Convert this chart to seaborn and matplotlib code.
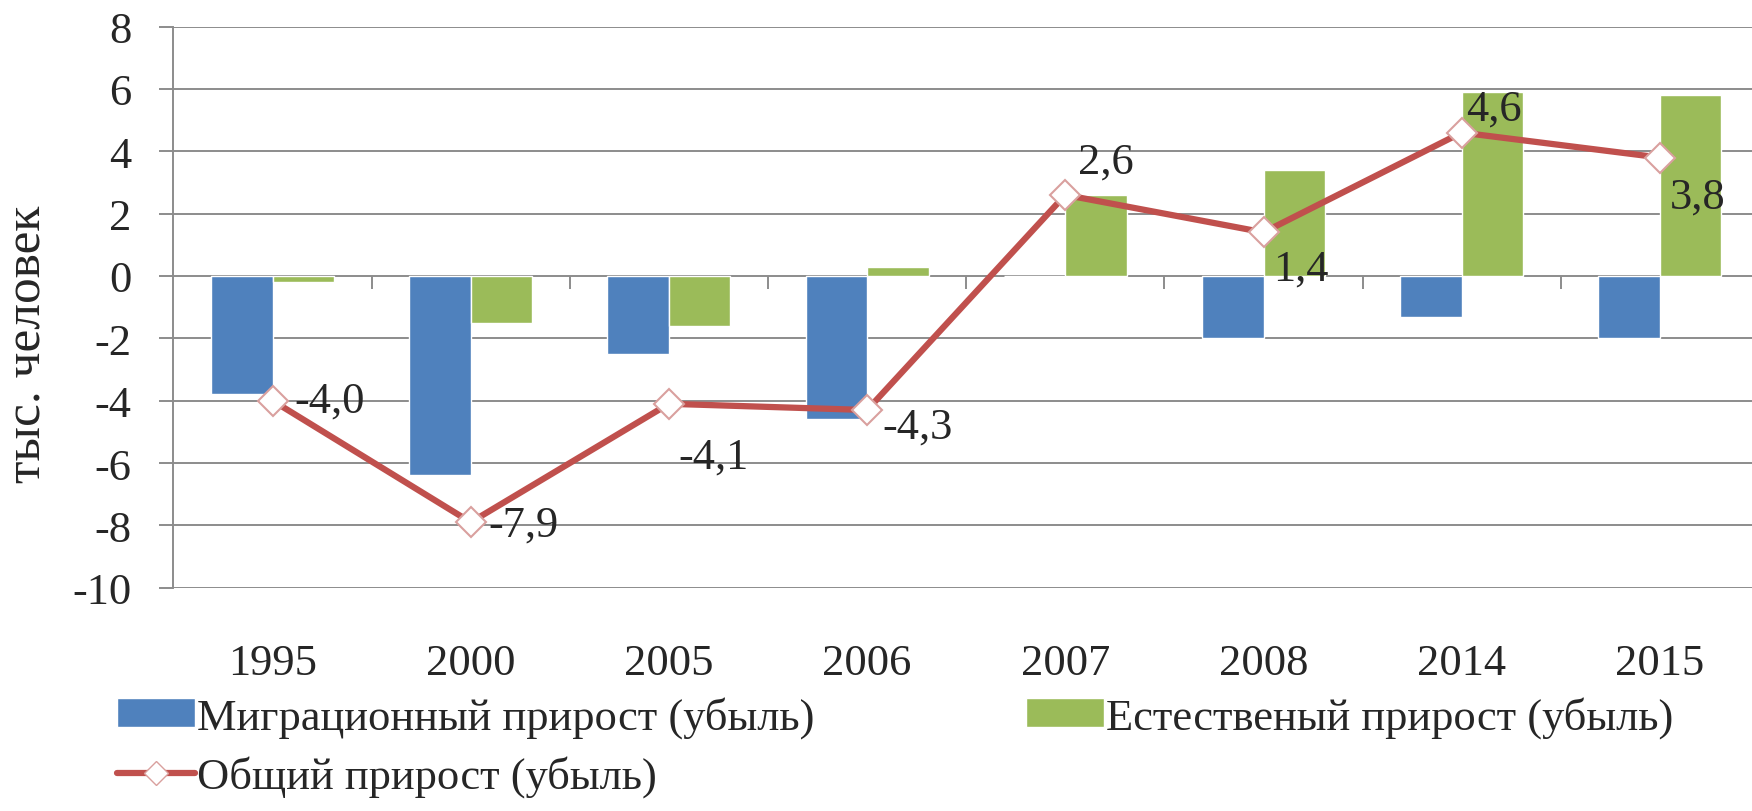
"""Migration / natural / total population growth, bars + line."""

import matplotlib
matplotlib.use("Agg")
import matplotlib.pyplot as plt
import numpy as np
import pandas as pd
import seaborn as sns
from matplotlib.lines import Line2D
from matplotlib.patches import Patch

years = ["1995", "2000", "2005", "2006", "2007", "2008", "2014", "2015"]
migration = [-3.8, -6.4, -2.5, -4.6, 0.0, -2.0, -1.3, -2.0]
natural = [-0.2, -1.5, -1.6, 0.3, 2.6, 3.4, 5.9, 5.8]
total = [-4.0, -7.9, -4.1, -4.3, 2.6, 1.4, 4.6, 3.8]
total_labels = ["-4,0", "-7,9", "-4,1", "-4,3", "2,6", "1,4", "4,6", "3,8"]

series_names = ["Миграционный прирост (убыль)", "Естественый прирост (убыль)"]
total_name = "Общий прирост (убыль)"

# label offsets (points) relative to the line markers
label_offsets = [(16, 0), (13, -2), (7, -38), (11, -12), (9, 24), (7, -26), (3, 17), (7, -28)]

BLUE = "#4F81BD"
GREEN = "#9BBB59"
RED = "#C0504D"
GRID = "#8C8C8C"
FS = 32

sns.set_style("white")
plt.rcParams["font.family"] = ["Liberation Serif", "DejaVu Serif"]
plt.rcParams["font.size"] = FS
plt.rcParams["axes.unicode_minus"] = False

bars = pd.DataFrame({
    "year": years * 2,
    "value": migration + natural,
    "series": [series_names[0]] * len(years) + [series_names[1]] * len(years),
})
line_df = pd.DataFrame({"year": years, "total": total})

fig = plt.figure(figsize=(17.52, 8.12), dpi=100)
ax = fig.add_axes([0.099, 0.275, 0.905, 0.691])

sns.barplot(data=bars, x="year", y="value", hue="series", hue_order=series_names,
            palette=[BLUE, GREEN], width=0.62, saturation=1, ax=ax, legend=False, zorder=2)
sns.pointplot(data=line_df, x="year", y="total", color=RED, marker="D", markersize=15,
              markerfacecolor="white", markeredgecolor="#D9A09E", markeredgewidth=1.5,
              linewidth=4.5, ax=ax, zorder=4)

for i, (val, txt, off) in enumerate(zip(total, total_labels, label_offsets)):
    ax.annotate(txt, (i, val), xytext=off, textcoords="offset points",
                ha="left", va="center", fontsize=FS, zorder=5)

ax.set_ylim(-10, 8)
ax.set_xlim(-0.5, len(years) - 0.5)
ax.set_yticks(np.arange(-10, 9, 2))
ax.yaxis.grid(True, color=GRID, linewidth=1.4)
ax.set_axisbelow(True)
for s in ["top", "right", "bottom"]:
    ax.spines[s].set_visible(False)
ax.spines["left"].set_color(GRID)
ax.spines["left"].set_linewidth(1.4)
ax.tick_params(axis="y", left=True, length=10, color=GRID, width=1.4, pad=20, labelsize=FS)
ax.tick_params(axis="x", bottom=False, length=0, pad=40, labelsize=FS)
ax.set_xlabel("")
ax.set_ylabel("тыс. человек", fontsize=37)
ax.yaxis.set_label_coords(-0.077, 0.436)

# category separator ticks on the zero line (between neighbouring categories)
sep_x = np.arange(len(years) - 1) + 0.5
ax.plot(sep_x, np.zeros_like(sep_x), linestyle="none", marker=3, markersize=9,
        markeredgewidth=1.4, color=GRID, zorder=1)

handles = [
    Patch(facecolor=BLUE, label=series_names[0]),
    Line2D([0], [0], color=RED, linewidth=4.5, marker="D", markersize=12,
           markerfacecolor="white", markeredgecolor="#D9A09E", label=total_name),
    Patch(facecolor=GREEN, label=series_names[1]),
]
fig.legend(handles=handles, ncol=2, loc="upper left", bbox_to_anchor=(0.067, 0.142),
           frameon=False, fontsize=FS, handlelength=1.75, handleheight=0.6,
           handletextpad=0.05, columnspacing=4.75, labelspacing=0.4, borderaxespad=0,
           borderpad=0)

fig.savefig("out.png", dpi=100)
plt.close(fig)
